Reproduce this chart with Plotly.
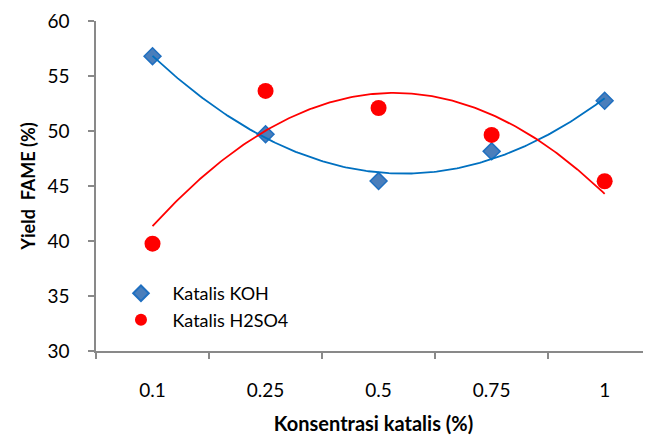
import numpy as np
import plotly.graph_objects as go

categories = ["0.1", "0.25", "0.5", "0.75", "1"]
koh = [56.8, 49.7, 45.45, 48.15, 52.75]
h2so4 = [39.76, 53.64, 52.09, 49.64, 45.43]

FONT = "Lato"
idx = np.arange(len(categories))
xs = np.linspace(0, len(categories) - 1, 200)
fit_koh = np.polyval(np.polyfit(idx, koh, 2), xs)
fit_h2 = np.polyval(np.polyfit(idx, h2so4, 2), xs)

PAD = "\u00a0\u00a0\u2009"
fig = go.Figure()
fig.add_trace(go.Scatter(x=xs, y=fit_koh, mode="lines", xaxis="x2",
                         line=dict(color="#0070C0", width=1.8), showlegend=False, hoverinfo="skip"))
fig.add_trace(go.Scatter(x=xs, y=fit_h2, mode="lines", xaxis="x2",
                         line=dict(color="#FF0000", width=1.8), showlegend=False, hoverinfo="skip"))
fig.add_trace(go.Scatter(x=categories, y=koh, mode="markers", name=PAD + "Katalis KOH",
                         marker=dict(symbol="diamond", size=13, color="#4A7EBB",
                                     line=dict(color="#1F6FC0", width=1.5))))
fig.add_trace(go.Scatter(x=categories, y=h2so4, mode="markers", name=PAD + "Katalis H2SO4",
                         marker=dict(symbol="circle", size=16, color="#FF0000",
                                     line=dict(width=0))))

xr = [-0.5, 4.41]
fig.update_layout(
    width=643, height=427,
    margin=dict(l=88, r=0, t=13, b=84, autoexpand=False),
    paper_bgcolor="white", plot_bgcolor="white",
    font=dict(family=FONT, color="#000000"),
    xaxis=dict(type="category", range=xr, showgrid=False, zeroline=False, automargin=False,
               showline=True, linecolor="#898989", linewidth=1.5,
               ticks="outside", tickson="boundaries", ticklen=6, tickcolor="#898989", tickwidth=1.5,
               tickfont=dict(size=19, family=FONT), ticklabelstandoff=21,
               title=dict(text="<b>Konsentrasi katalis (%)</b>", font=dict(size=20, family=FONT), standoff=17)),
    xaxis2=dict(range=xr, overlaying="x", visible=False),
    yaxis=dict(range=[30, 60], dtick=5, showgrid=False, zeroline=False, automargin=False,
               showline=True, linecolor="#898989", linewidth=1.5,
               ticks="outside", ticklen=6, tickcolor="#898989", tickwidth=1.5,
               tickfont=dict(size=19, family=FONT), ticklabelstandoff=15,
               title=dict(text="<b>Yield\u00a0 FAME (%)</b>", font=dict(size=18, family=FONT), standoff=7)),
    legend=dict(x=0.045, y=0.23, xanchor="left", yanchor="top", bgcolor="rgba(0,0,0,0)",
                font=dict(size=18, family=FONT), itemsizing="constant", tracegroupgap=0),
)
fig.write_html("out.html")
